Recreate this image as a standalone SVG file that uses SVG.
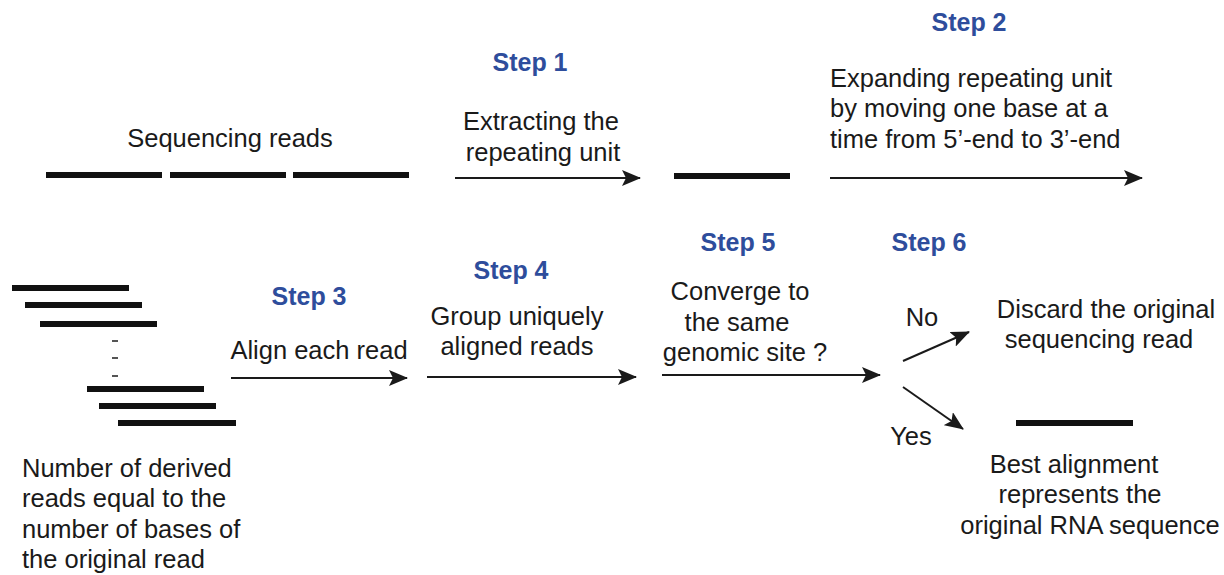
<svg xmlns="http://www.w3.org/2000/svg" width="1224" height="575" viewBox="0 0 1224 575">
<style>
text{font-family:"Liberation Sans",Arial,sans-serif;font-size:25.5px;fill:#1a1a1a;text-anchor:middle}
.l{text-anchor:start}
.step{font-weight:bold;fill:#2e4d9c;font-size:25px}
.bar{fill:#111}
.ar{stroke:#1a1a1a;stroke-width:2;fill:none;marker-end:url(#ah)}
</style>
<defs>
<marker id="ah" viewBox="0 0 19 16" refX="18" refY="8" markerWidth="19" markerHeight="16" markerUnits="userSpaceOnUse" orient="auto"><path d="M0,0 L19,8 L0,16 L4,8 Z" fill="#1a1a1a"/></marker>
</defs>
<rect width="1224" height="575" fill="#fff"/>
<g id="reads">
<text x="230" y="147">Sequencing reads</text>
<rect class="bar" x="46" y="172" width="116" height="6"/>
<rect class="bar" x="170" y="172" width="116" height="6"/>
<rect class="bar" x="293" y="172" width="116" height="6"/>
</g>
<g id="step1">
<text class="step" x="530" y="71">Step 1</text>
<text x="541" y="130">Extracting the</text>
<text x="543" y="161">repeating unit</text>
</g>
<g id="unit"><rect class="bar" x="674" y="173" width="116" height="6"/></g>
<g id="step2">
<text class="step" x="969" y="31">Step 2</text>
<text class="l" x="830" y="87">Expanding repeating unit</text>
<text class="l" x="830" y="117">by moving one base at a</text>
<text class="l" x="830" y="148">time from 5’-end to 3’-end</text>
</g>
<g id="derived">
<rect class="bar" x="12" y="285" width="117" height="6"/>
<rect class="bar" x="25" y="302" width="117" height="6"/>
<rect class="bar" x="40" y="321" width="117" height="6"/>
<rect x="112" y="340" width="6" height="2" fill="#555"/>
<rect x="112" y="357" width="6" height="2" fill="#555"/>
<rect x="112" y="375" width="6" height="2" fill="#555"/>
<rect class="bar" x="87" y="386" width="117" height="6"/>
<rect class="bar" x="99" y="403" width="117" height="6"/>
<rect class="bar" x="118" y="420" width="118" height="6"/>
<text class="l" x="22" y="477">Number of derived</text>
<text class="l" x="22" y="507">reads equal to the</text>
<text class="l" x="22" y="538">number of bases of</text>
<text class="l" x="22" y="568">the original read</text>
</g>
<g id="step3">
<text class="step" x="309" y="305">Step 3</text>
<text x="319" y="359">Align each read</text>
</g>
<g id="step4">
<text class="step" x="511" y="279">Step 4</text>
<text x="517" y="325">Group uniquely</text>
<text x="517" y="355">aligned reads</text>
</g>
<g id="step5">
<text class="step" x="738" y="251">Step 5</text>
<text x="740" y="300">Converge to</text>
<text x="737" y="331">the same</text>
<text x="745" y="361">genomic site ?</text>
</g>
<g id="step6">
<text class="step" x="929" y="251">Step 6</text>
<text x="922" y="326">No</text>
<text x="911" y="445">Yes</text>
</g>
<g id="discard">
<text x="1106" y="318">Discard the original</text>
<text x="1099" y="348">sequencing read</text>
</g>
<g id="best">
<rect class="bar" x="1016" y="420" width="117" height="6"/>
<text x="1074" y="473">Best alignment</text>
<text x="1080" y="503">represents the</text>
<text x="1090" y="534">original RNA sequence</text>
</g>
<g id="connectors">
<line class="ar" x1="455" y1="178" x2="640" y2="178"/>
<line class="ar" x1="830" y1="178" x2="1142" y2="178"/>
<line class="ar" x1="231" y1="378" x2="407" y2="378"/>
<line class="ar" x1="427" y1="377" x2="636" y2="377"/>
<line class="ar" x1="662" y1="375" x2="880" y2="375"/>
<line class="ar" x1="903" y1="361" x2="969" y2="332"/>
<line class="ar" x1="903" y1="387" x2="963" y2="429"/>
</g>
</svg>
